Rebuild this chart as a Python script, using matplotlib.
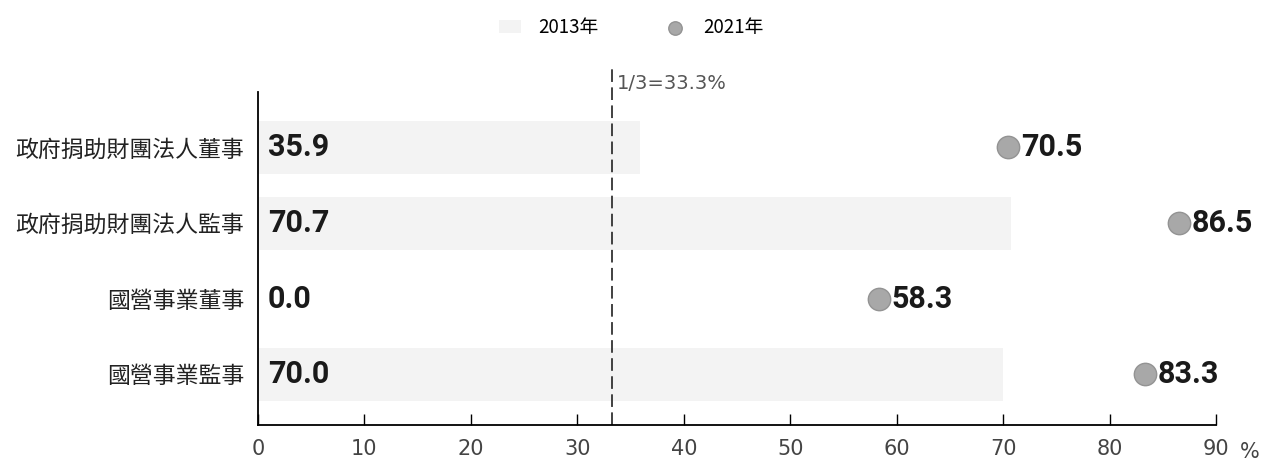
import matplotlib.pyplot as plt

plt.rcParams['font.family'] = ['Noto Sans CJK TC', 'DejaVu Sans']

# data
categories = ['政府捐助財團法人董事', '政府捐助財團法人監事', '國營事業董事', '國營事業監事']
y2013 = [35.9, 70.7, 0.0, 70.0]
y2021 = [70.5, 86.5, 58.3, 83.3]
xticks = [0, 10, 20, 30, 40, 50, 60, 70, 80, 90]
threshold = 33.3

num_font = ['Roboto', 'DejaVu Sans']

fig = plt.figure(figsize=(12.62, 4.61), dpi=100)
ax = fig.add_axes([0.2044, 0.078, 0.7592, 0.722])

pos = list(range(len(categories)))
bars = ax.barh(pos, y2013, height=0.7, color='#f3f3f3', label='2013年', zorder=1)
dots = ax.scatter(y2021, pos, s=260, color='#a8a8a8', edgecolor='#939393',
                  linewidth=1, zorder=3, label='2021年')

for p, v in zip(pos, y2013):
    ax.annotate(f'{v:.1f}', (0, p), xytext=(7, 0), textcoords='offset points',
                va='center', ha='left', fontsize=22, fontweight='bold',
                family=num_font, color='#1a1a1a')
for p, v in zip(pos, y2021):
    ax.annotate(f'{v:.1f}', (v, p), xytext=(9, 0), textcoords='offset points',
                va='center', ha='left', fontsize=22, fontweight='bold',
                family=num_font, color='#1a1a1a')

# one-third line
ax.axvline(threshold, ymin=0, ymax=1.07, color='#333333', lw=1.3,
           ls=(0, (7, 3)), clip_on=False, zorder=2)
ax.text(threshold + 0.4, -0.85, '1/3=33.3%', fontsize=14, color='#555555',
        va='center', ha='left', family=['DejaVu Sans'])

ax.set_xlim(0, 90)
ax.set_ylim(3.67, -0.73)
ax.set_yticks(pos)
ax.set_yticklabels(categories, fontsize=16.5, color='#222222')
ax.set_xticks(xticks)
ax.set_xticklabels([str(t) for t in xticks], fontsize=15, color='#444444',
                   family=['DejaVu Sans'])
ax.tick_params(axis='y', length=0, pad=10)
ax.tick_params(axis='x', direction='in', length=8, width=1, pad=10)
for s in ['top', 'right']:
    ax.spines[s].set_visible(False)
ax.spines['left'].set_linewidth(1.3)
ax.spines['bottom'].set_linewidth(1.3)

ax.text(1.025, -0.08, '%', transform=ax.transAxes, fontsize=15,
        color='#444444', va='center', ha='left', family=['DejaVu Sans'])

fig.legend([bars, dots], ['2013年', '2021年'], loc='upper center',
           bbox_to_anchor=(0.5, 1.0), ncol=2, frameon=False, fontsize=13.5,
           handlelength=1.2, handletextpad=0.9, columnspacing=3.5,
           markerscale=0.6)

fig.savefig('out.png', dpi=100, facecolor='white')
